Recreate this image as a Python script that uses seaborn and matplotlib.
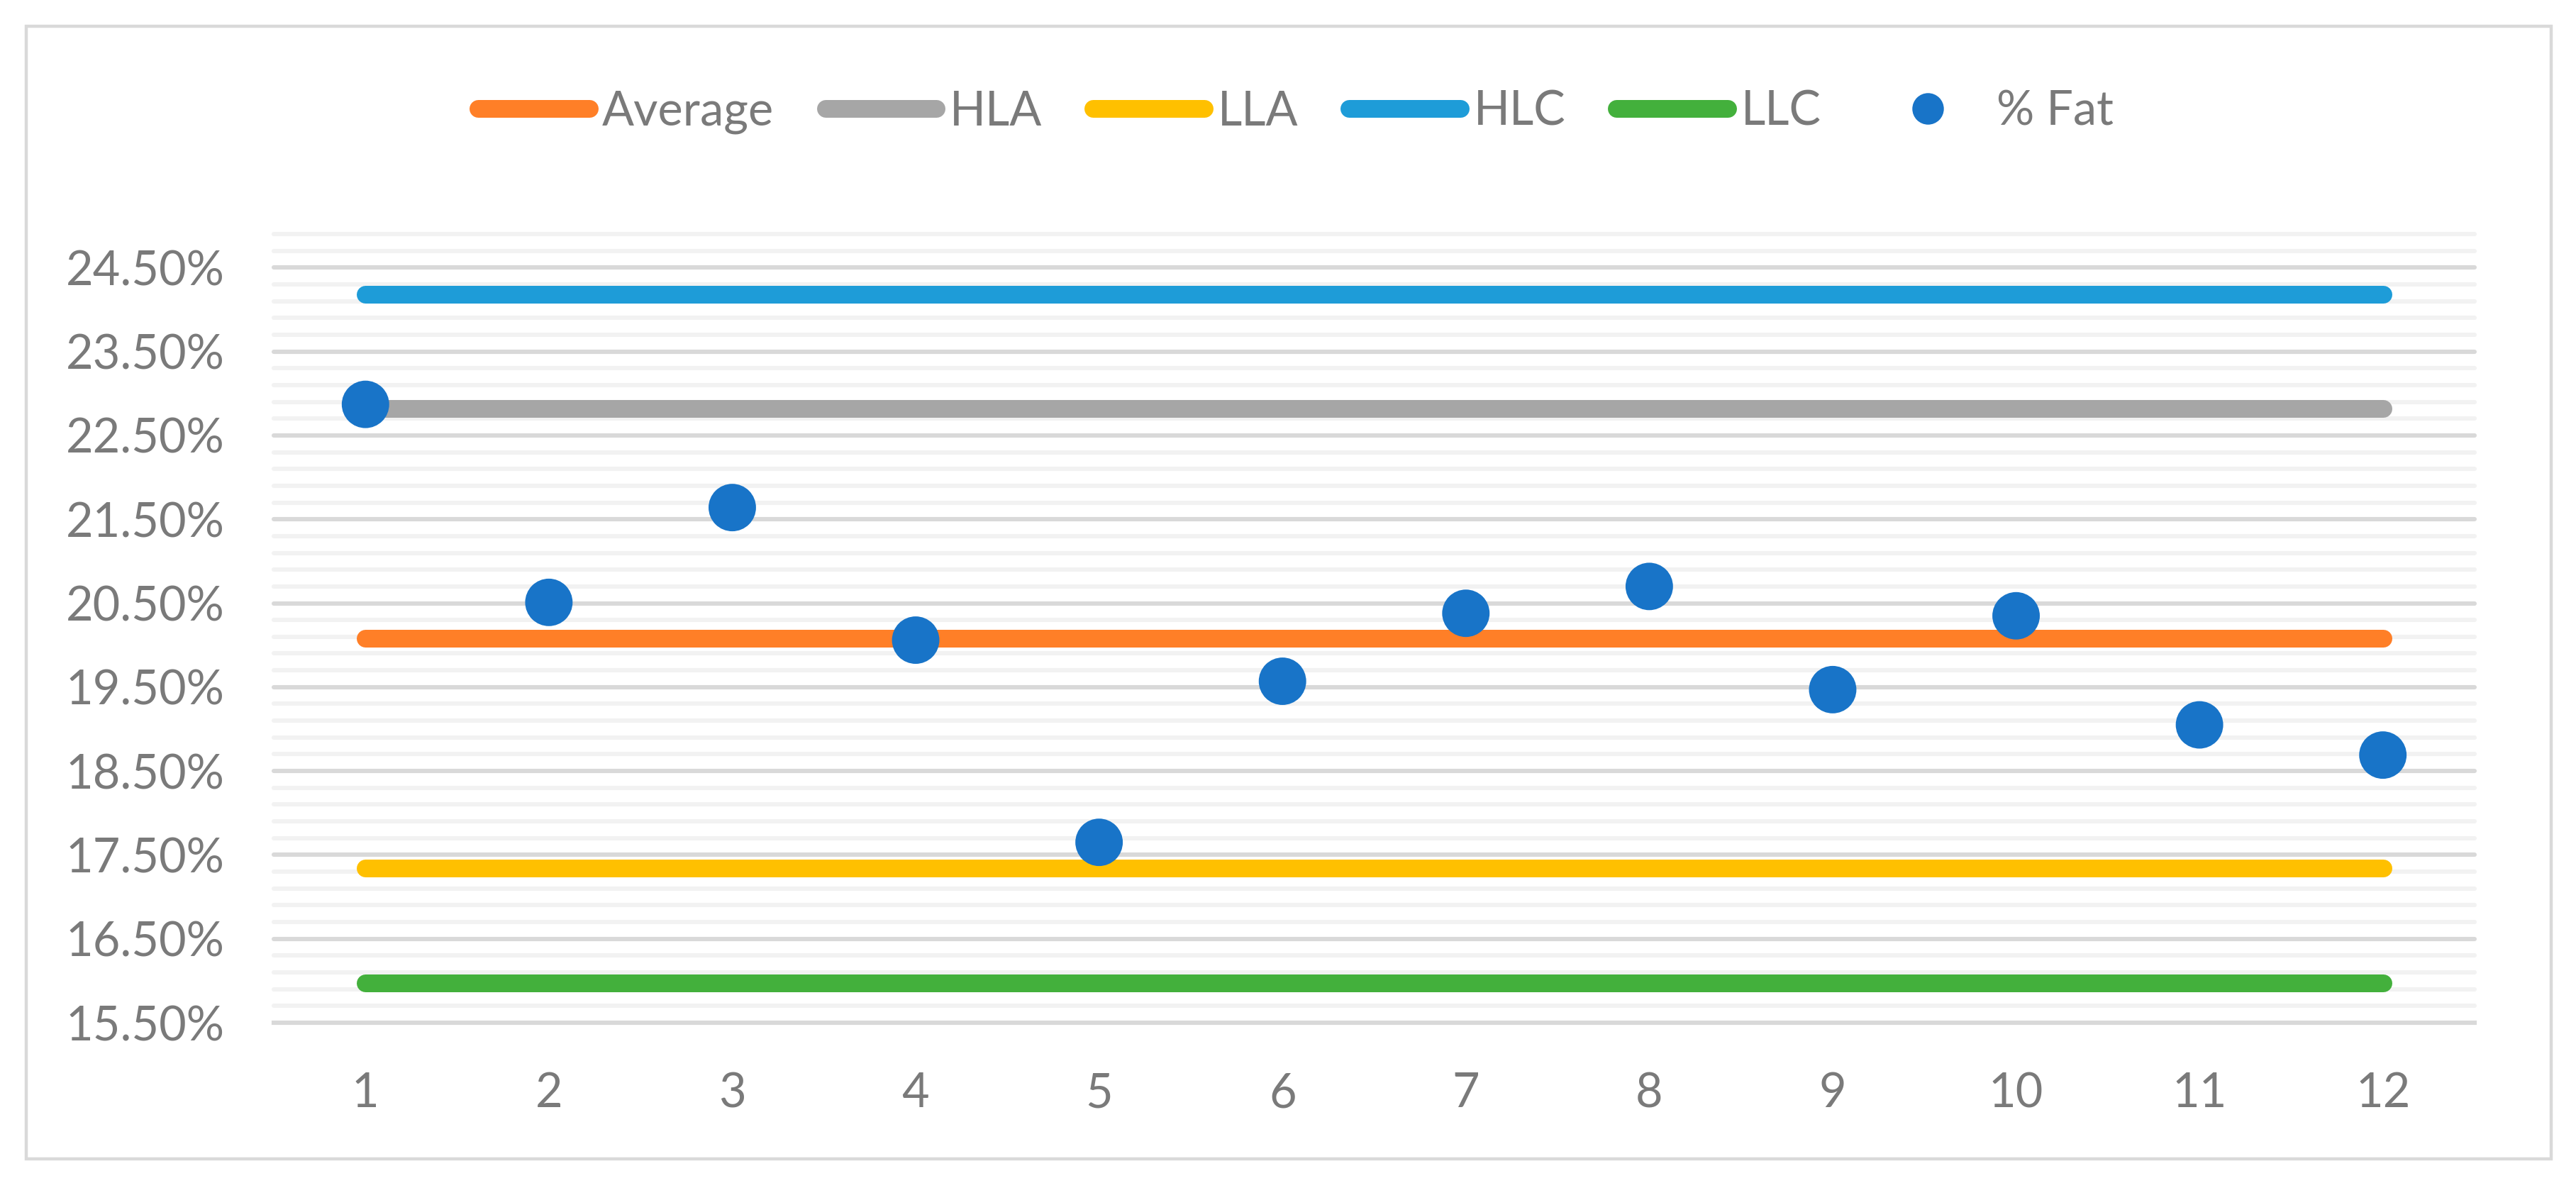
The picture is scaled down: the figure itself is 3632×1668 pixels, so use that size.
import numpy as np
import pandas as pd
import matplotlib
matplotlib.use("Agg")
import matplotlib.pyplot as plt
from matplotlib.lines import Line2D
from matplotlib.patches import Rectangle
import seaborn as sns

# ---------------- data ----------------
samples = [1, 2, 3, 4, 5, 6, 7, 8, 9, 10, 11, 12]
pct_fat = [22.87, 20.51, 21.64, 20.06, 17.65, 19.57, 20.38, 20.70, 19.47, 20.35, 19.05, 18.69]
limit_names = ["Average", "HLA", "LLA", "HLC", "LLC"]
limit_values = [20.08, 22.82, 17.34, 24.18, 15.97]
limit_colors = ["#FF7F27", "#A6A6A6", "#FFC000", "#1E9CD8", "#43B03C"]
point_color = "#1874C8"
y_tick_values = [15.5, 16.5, 17.5, 18.5, 19.5, 20.5, 21.5, 22.5, 23.5, 24.5]
y_min, y_max = 15.5, 24.9

# ---------------- style ----------------
sns.set_theme(style="white")
plt.rcParams["font.family"] = ["Lato", "DejaVu Sans"]
text_color = "#7A7A7A"
grid_major = "#D9D9D9"
grid_minor = "#F2F2F2"

W, H, DPI = 3632, 1668, 200
fig = plt.figure(figsize=(W / DPI, H / DPI), dpi=DPI)
fig.patch.set_facecolor("white")

# outer frame
fig.add_artist(Rectangle((37 / W, 1 - 1634 / H), (3597 - 37) / W, (1634 - 37) / H,
                         transform=fig.transFigure, fill=False,
                         edgecolor=grid_major, linewidth=1.6))

ax_left, ax_right = 386 / W, 3489 / W
ax_bottom, ax_top = 1 - 1442 / H, 1 - 330 / H
ax = fig.add_axes([ax_left, ax_bottom, ax_right - ax_left, ax_top - ax_bottom])
ax.set_facecolor("white")

# gridlines
lw_grid = 2.2
minor_vals = np.round(np.arange(y_min + 0.2, y_max + 0.001, 0.2), 2)
for v in minor_vals:
    is_major = any(abs(v - t) < 1e-6 for t in y_tick_values)
    ax.axhline(v, color=grid_major if is_major else grid_minor, lw=lw_grid,
               zorder=0.5, clip_on=False)

# limit lines
rows = []
for name, val in zip(limit_names, limit_values):
    for s in samples:
        rows.append({"Sample": s, "Value": val, "Series": name})
df_lines = pd.DataFrame(rows)
sns.lineplot(data=df_lines, x="Sample", y="Value", hue="Series",
             hue_order=limit_names, palette=limit_colors, linewidth=9,
             solid_capstyle="round", legend=False, ax=ax, zorder=2)

# points
df_pts = pd.DataFrame({"Sample": samples, "Fat": pct_fat})
sns.scatterplot(data=df_pts, x="Sample", y="Fat", s=580, color=point_color,
                edgecolor="none", linewidth=0, ax=ax, zorder=5, legend=False)

# axes
ax.set_xlim(0.5, 12.5)
ax.set_ylim(y_min, y_max)
ax.set_xlabel("")
ax.set_ylabel("")
for side in ["top", "right", "left"]:
    ax.spines[side].set_visible(False)
ax.spines["bottom"].set_color(grid_major)
ax.spines["bottom"].set_linewidth(lw_grid)
ax.spines["bottom"].set_zorder(1)

ax.set_xticks(samples)
ax.set_xticklabels([str(s) for s in samples])
ax.set_xticks(np.arange(0.5, 13, 1.0), minor=True)
ax.tick_params(axis="x", which="major", length=0, pad=25, labelsize=24, labelcolor=text_color)
ax.tick_params(axis="x", which="minor", length=8.6, width=lw_grid, color=grid_major, direction="out")

ax.set_yticks(y_tick_values)
ax.set_yticklabels([f"{v:.2f}%" for v in y_tick_values])
ax.tick_params(axis="y", which="both", length=0, pad=25, labelsize=24, labelcolor=text_color)
ax.grid(False)

# legend
handles = [Line2D([0], [0], color=c, lw=9, solid_capstyle="round") for c in limit_colors]
handles.append(Line2D([0], [0], color=point_color, lw=0, marker="o", markersize=16,
                      markeredgewidth=0))
labels = limit_names + ["% Fat"]
leg = fig.legend(handles, labels, loc="center", bbox_to_anchor=(0.503, 1 - 158 / H),
                 ncol=6, frameon=False, fontsize=24, handlelength=2.35,
                 handletextpad=0.28, columnspacing=1.08, labelcolor=text_color,
                 borderaxespad=0)

fig.savefig("out.png", dpi=DPI, facecolor="white")
